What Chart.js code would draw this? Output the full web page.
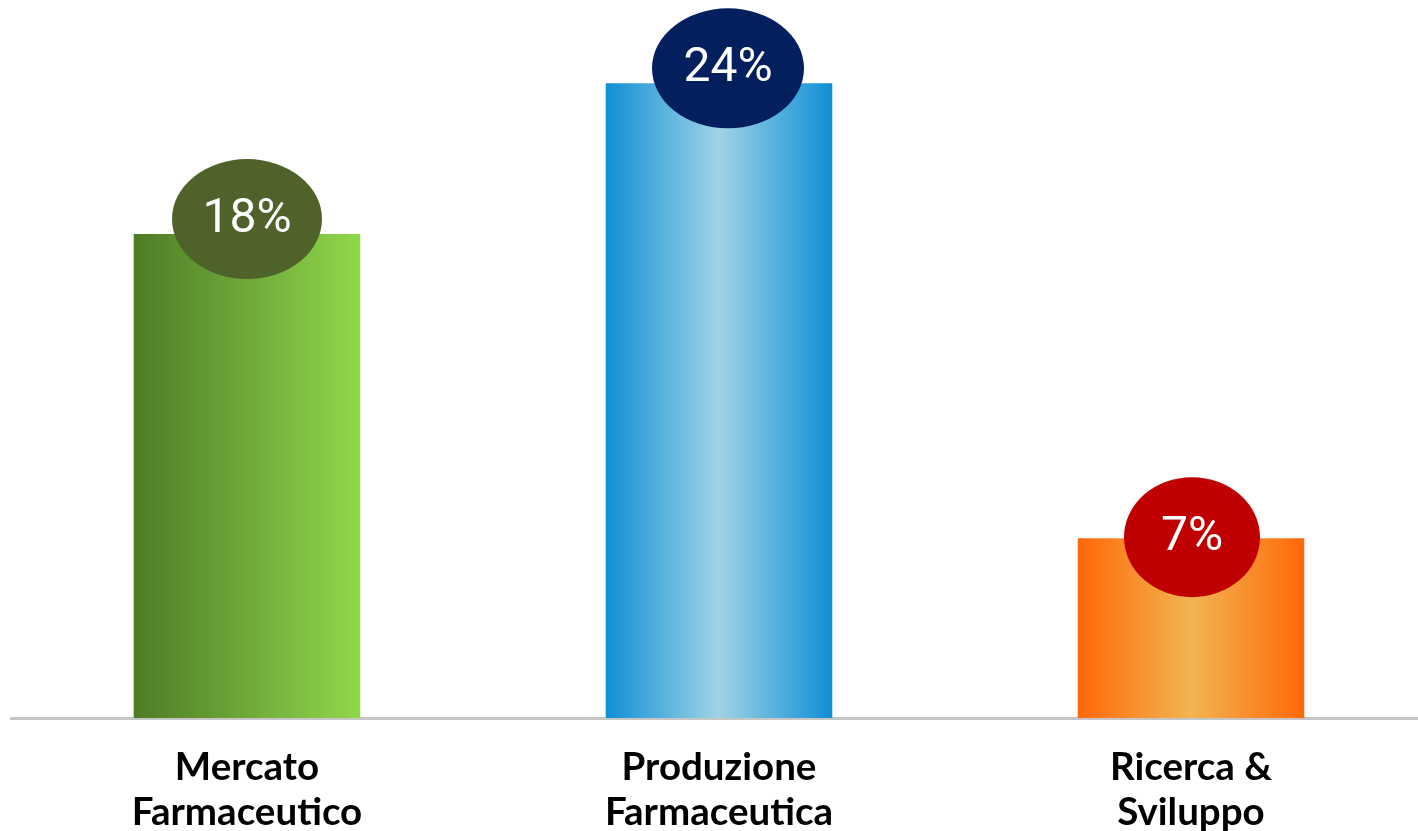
<!DOCTYPE html>
<html>
<head>
<meta charset="utf-8">
<script src="https://cdn.jsdelivr.net/npm/chart.js@4/dist/chart.umd.min.js"></script>
<style>
  html, body { margin: 0; padding: 0; background: #ffffff; overflow: hidden; }
  #wrap { width: 1430px; height: 831px; }
</style>
</head>
<body>
<div id="wrap"><canvas id="c" width="1430" height="831"></canvas></div>
<script>
// ---- data ----
const categories = [["Mercato", "Farmaceutico"], ["Produzione", "Farmaceutica"], ["Ricerca &", "Sviluppo"]];
const values = [18.3, 24, 6.8];
const valueLabels = ["18%", "24%", "7%"];

// ---- styles ----
const barGradients = [
  ["#4e7c26", "#6fa93a", "#90d84a"],
  ["#0f8fd4", "#9fd3e6", "#0f8fd4"],
  ["#ff6808", "#f3b452", "#ff6808"]
];
const bubbleColors = ["#4f622a", "#031f5e", "#c00000"];
const bubbleW = [150, 152, 136];
const bubbleLift = [15, 15, 1];
const bubbleShift = [0, 9, 1];

function barFill(ctx) {
  const chart = ctx.chart;
  const xs = chart.scales.x;
  if (!xs || !chart.chartArea || ctx.dataIndex === undefined) return barGradients[0][0];
  const i = ctx.dataIndex;
  const cx = xs.getPixelForValue(i);
  const w = xs.width / categories.length * 0.48;
  const g = chart.ctx.createLinearGradient(cx - w / 2, 0, cx + w / 2, 0);
  const stops = barGradients[i];
  stops.forEach((c, k) => g.addColorStop(k / (stops.length - 1), c));
  return g;
}

const bubbles = {
  id: 'bubbles',
  afterDatasetsDraw(chart) {
    const ctx = chart.ctx;
    const meta = chart.getDatasetMeta(0);
    meta.data.forEach((bar, i) => {
      const cx = bar.x + bubbleShift[i], cy = bar.y - bubbleLift[i];
      ctx.save();
      ctx.beginPath();
      ctx.ellipse(cx, cy, bubbleW[i] / 2, 60, 0, 0, Math.PI * 2);
      ctx.fillStyle = bubbleColors[i];
      ctx.fill();
      ctx.fillStyle = "#ffffff";
      ctx.font = "48px Roboto";
      ctx.textAlign = "center";
      ctx.textBaseline = "middle";
      ctx.fillText(valueLabels[i], cx, cy + 1);
      ctx.restore();
    });
  }
};

new Chart(document.getElementById('c'), {
  type: 'bar',
  data: {
    labels: categories,
    datasets: [{
      data: values,
      backgroundColor: barFill,
      borderWidth: 0,
      barPercentage: 0.96,
      categoryPercentage: 0.5
    }]
  },
  options: {
    responsive: false,
    animation: false,
    layout: { padding: { left: 11, right: 3, top: 4, bottom: 0 } },
    plugins: { legend: { display: false }, tooltip: { enabled: false } },
    scales: {
      y: { display: false, min: 0, max: 27 },
      x: {
        grid: { display: false, drawTicks: false },
        border: { display: true, color: "#c6c6c6", width: 3 },
        ticks: {
          color: "#000000",
          padding: 27,
          maxRotation: 0,
          autoSkip: false,
          font: { family: "Lato", weight: "bold", size: 38.5, lineHeight: 1.17 }
        },
        afterFit(scale) { scale.height = 113; }
      }
    }
  },
  plugins: [bubbles]
});
</script>
</body>
</html>
